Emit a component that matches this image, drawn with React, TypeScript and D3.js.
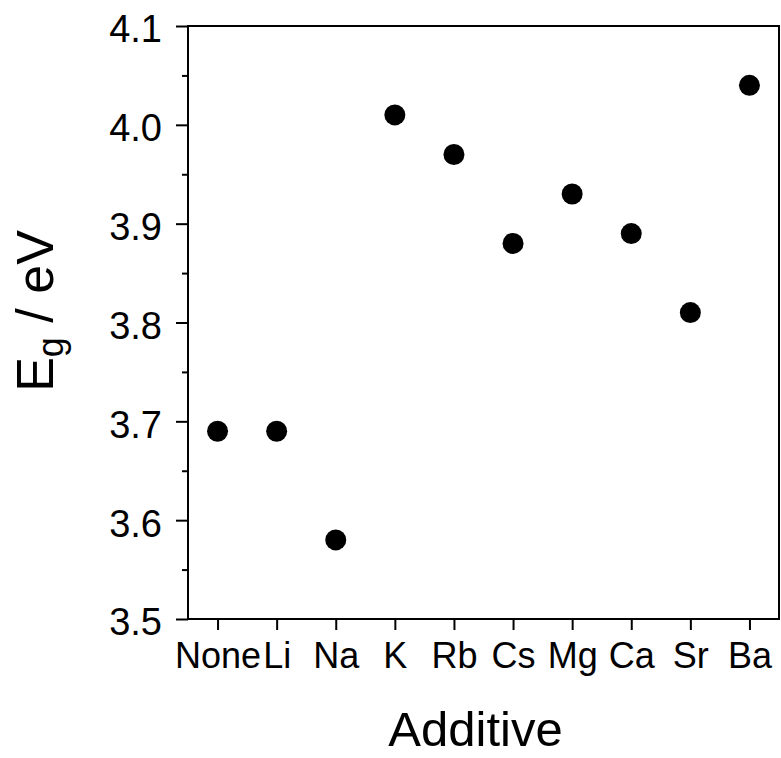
import React, { useEffect, useRef } from 'react';
import * as d3 from 'd3';

const additives = ['None', 'Li', 'Na', 'K', 'Rb', 'Cs', 'Mg', 'Ca', 'Sr', 'Ba'];
const bandGap = [3.69, 3.69, 3.58, 4.01, 3.97, 3.88, 3.93, 3.89, 3.81, 4.04];
const yTicks = [3.5, 3.6, 3.7, 3.8, 3.9, 4.0, 4.1];
const yMinorTicks = [3.55, 3.65, 3.75, 3.85, 3.95, 4.05];

const W = 781;
const H = 758;
const margin = { top: 26, right: 2, bottom: 139, left: 188 };
const font = '"Liberation Sans", Arial, sans-serif';

export default function App() {
  const ref = useRef<SVGSVGElement>(null);

  useEffect(() => {
    const svg = d3.select(ref.current);
    svg.selectAll('*').remove();

    const x = d3.scalePoint<string>()
      .domain(additives)
      .range([margin.left, W - margin.right])
      .padding(0.5);

    const y = d3.scaleLinear()
      .domain([3.5, 4.1])
      .range([H - margin.bottom, margin.top]);

    const x0 = margin.left;
    const x1 = W - margin.right;
    const y0 = H - margin.bottom;
    const y1 = margin.top;

    // frame
    svg.append('rect')
      .attr('x', x0).attr('y', y1)
      .attr('width', x1 - x0).attr('height', y0 - y1)
      .attr('fill', 'none').attr('stroke', '#000').attr('stroke-width', 2);

    // y axis
    const yAxis = svg.append('g').attr('transform', `translate(${x0},0)`);
    yAxis.append('g')
      .call(d3.axisLeft(y).tickValues(yMinorTicks).tickSize(6).tickFormat(() => ''))
      .call(g => g.select('.domain').remove())
      .call(g => g.selectAll('line').attr('stroke-width', 2));
    yAxis.append('g')
      .call(d3.axisLeft(y).tickValues(yTicks).tickSize(12).tickPadding(14).tickFormat(d3.format('.1f')))
      .call(g => g.select('.domain').remove())
      .call(g => g.selectAll('line').attr('stroke-width', 2))
      .call(g => g.selectAll('text')
        .attr('font-family', font)
        .attr('font-size', 38)
        .attr('dy', '0.42em'));

    // x axis
    svg.append('g')
      .attr('transform', `translate(0,${y0})`)
      .call(d3.axisBottom(x).tickSize(11).tickPadding(12))
      .call(g => g.select('.domain').remove())
      .call(g => g.selectAll('line').attr('stroke-width', 2))
      .call(g => g.selectAll('text')
        .attr('font-family', font)
        .attr('font-size', 36));

    // points
    svg.append('g')
      .selectAll('circle')
      .data(additives)
      .join('circle')
      .attr('cx', d => x(d)!)
      .attr('cy', (d, i) => y(bandGap[i]))
      .attr('r', 10.5)
      .attr('fill', '#000');

    // axis titles
    svg.append('text')
      .attr('x', (x0 + x1) / 2 - 8)
      .attr('y', 746)
      .attr('text-anchor', 'middle')
      .attr('font-family', font)
      .attr('font-size', 49)
      .text('Additive');

    const yt = svg.append('text')
      .attr('transform', `translate(53,311) rotate(-90)`)
      .attr('text-anchor', 'middle')
      .attr('font-family', font)
      .attr('font-size', 52);
    yt.append('tspan').text('E');
    yt.append('tspan').attr('font-size', 36).attr('dy', 10).text('g');
    yt.append('tspan').attr('dy', -10).text(' / eV');
  }, []);

  return (
    <svg
      ref={ref}
      width={W}
      height={H}
      style={{ position: 'absolute', left: 0, top: 0, background: '#fff' }}
    />
  );
}
